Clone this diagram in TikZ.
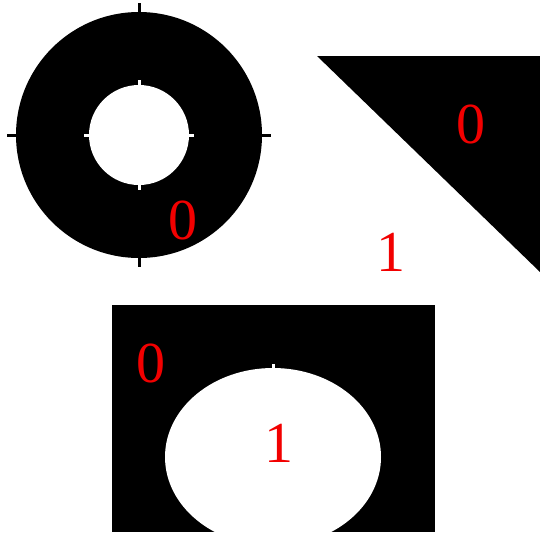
\documentclass[tikz,border=0pt]{standalone}
\usepackage{fontspec}
\setmainfont{Liberation Serif}
\usepackage{tikz}
\usetikzlibrary{positioning}
\definecolor{MaskRed}{HTML}{F20000}
\tikzset{
  object/.style={fill=black},
  background/.style={fill=white},
  ringtick/.style={draw=black, line width=3pt},
  holetick/.style={draw=white, line width=3pt},
  digit/.style={text=MaskRed, inner sep=0pt, font=\fontsize{58}{60}\selectfont}
}
\begin{document}
\begin{tikzpicture}[x=1pt, y=-1pt]
  \useasboundingbox[background] (0,0) rectangle (540,536);
  % ring
  \coordinate (ringc) at (139,135);
  \fill[object] (ringc) circle[radius=123];
  \fill[background] (ringc) circle[radius=50];
  \foreach \dx/\dy in {1/0, -1/0, 0/1, 0/-1} {
    \draw[ringtick] ([shift={(122*\dx,122*\dy)}]ringc) -- ([shift={(132*\dx,132*\dy)}]ringc);
    \draw[holetick] ([shift={(45*\dx,45*\dy)}]ringc) -- ([shift={(55*\dx,55*\dy)}]ringc);
  }
  \node[digit] (ringzero) at (183,220) {0};
  % triangle
  \fill[object] (317,56) -- (540,56) -- (540,272) -- cycle;
  \node[digit] (trizero) at (471,124) {0};
  \node[digit] (trione) at (391,252) {1};
  % rectangle with ellipse
  \fill[object] (112,305) rectangle (435,532);
  \begin{scope}
    \clip (112,305) rectangle (435,532);
    \fill[background] (273,457) ellipse[x radius=108, y radius=89];
  \end{scope}
  \draw[holetick] (273,364) -- (273,370);
  \node[digit] (rectzero) at (151,363) {0};
  \node[digit] (rectone) at (279,443) {1};
\end{tikzpicture}
\end{document}
